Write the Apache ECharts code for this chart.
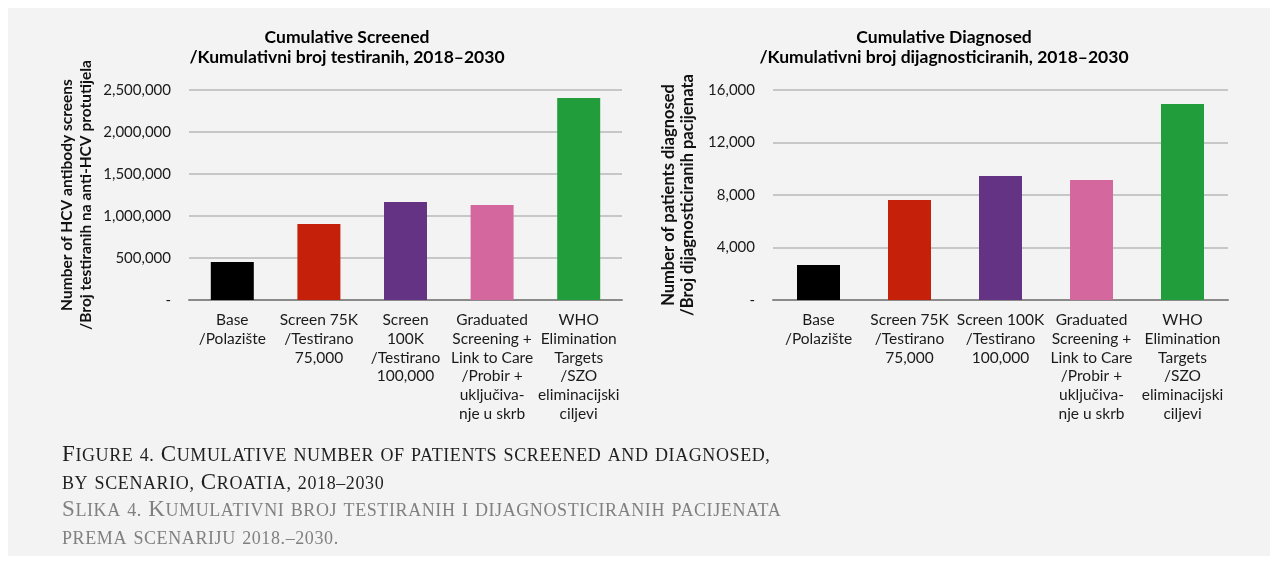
<!DOCTYPE html>
<html>
<head>
<meta charset="utf-8">
<script src="https://cdn.jsdelivr.net/npm/echarts@6/dist/echarts.min.js"></script>
<style>
  html, body { margin: 0; padding: 0; background: #fff; }
  .wrap { position: relative; width: 1275px; height: 561px; }
  .panel { position: absolute; left: 8px; top: 8px; width: 1262px; height: 548px; background: #f2f3f2; }
  #chart { position: absolute; left: 0; top: 0; width: 1275px; height: 561px; }
  .caption { position: absolute; left: 62px; top: 440px; font-family: "Liberation Serif", serif; font-size: 23px; line-height: 27.7px; letter-spacing: 0.6px; white-space: nowrap; }
  .caption .sc { font-size: 18px; line-height: 1; }
  .caption .en { color: #1f1f1f; }
  .caption .hr { color: #808080; }
</style>
</head>
<body>
<div class="wrap">
  <div class="panel"></div>
  <div id="chart"></div>
  <div class="caption">
    <div class="en" data-sc="Figure 4. Cumulative number of patients screened and diagnosed,|by scenario, Croatia, 2018–2030">Figure 4. Cumulative number of patients screened and diagnosed, by scenario, Croatia, 2018–2030</div>
    <div class="hr" data-sc="Slika 4. Kumulativni broj testiranih i dijagnosticiranih pacijenata|prema scenariju 2018.–2030.">Slika 4. Kumulativni broj testiranih i dijagnosticiranih pacijenata prema scenariju 2018.–2030.</div>
  </div>
</div>
<script>
// scenario labels (line breaks as in the figure)
const screenedLabels = [
  'Base\n/Polazište',
  'Screen 75K\n/Testirano\n75,000',
  'Screen\n100K\n/Testirano\n100,000',
  'Graduated\nScreening +\nLink to Care\n/Probir +\nuključiva-\nnje u skrb',
  'WHO\nElimination\nTargets\n/SZO\neliminacijski\nciljevi'
];
const diagnosedLabels = [
  'Base\n/Polazište',
  'Screen 75K\n/Testirano\n75,000',
  'Screen 100K\n/Testirano\n100,000',
  'Graduated\nScreening +\nLink to Care\n/Probir +\nuključiva-\nnje u skrb',
  'WHO\nElimination\nTargets\n/SZO\neliminacijski\nciljevi'
];
const barColors = ['#000000', '#c4200a', '#643383', '#d4679e', '#219e3b'];

// cumulative screened, 2018-2030
const screenedValues = [452000, 905000, 1167000, 1131000, 2405000];
// cumulative diagnosed, 2018-2030
const diagnosedValues = [2670, 7620, 9450, 9140, 14930];

const font = 'Lato, "Open Sans", sans-serif';

// small caps caption: capitals stay big, everything else goes small upper case
document.querySelectorAll('.caption [data-sc]').forEach(el => {
  const lines = el.dataset.sc.split('|');
  el.innerHTML = lines.map(line =>
    line.replace(/[^A-ZČĆŠŽĐ ]+/g, m => '<span class="sc">' + m.toUpperCase() + '</span>')
  ).join('<br>');
});

function fmt(v) {
  if (v === 0) return '-';
  return v.toLocaleString('en-US');
}

function coloured(values) {
  return values.map((v, i) => ({ value: v, itemStyle: { color: barColors[i] } }));
}

function xAxis(gridIndex, labels) {
  return {
    type: 'category',
    gridIndex: gridIndex,
    data: labels,
    axisTick: { show: false },
    axisLine: { lineStyle: { color: '#8a8a8a', width: 2 } },
    axisLabel: {
      interval: 0,
      margin: 11,
      color: '#1a1a1a',
      fontFamily: font,
      fontSize: 15.5,
      lineHeight: 18.7
    }
  };
}

function yAxis(gridIndex, max, interval, name, gap, nameSize) {
  return {
    type: 'value',
    gridIndex: gridIndex,
    min: 0,
    max: max,
    interval: interval,
    name: name,
    nameLocation: 'middle',
    nameGap: gap,
    nameTextStyle: {
      fontFamily: font,
      fontSize: nameSize,
      fontWeight: 'bold',
      color: '#111',
      lineHeight: 19
    },
    axisLine: { show: false },
    axisTick: { show: false },
    axisLabel: {
      margin: 18,
      color: '#1a1a1a',
      fontFamily: font,
      fontSize: 15,
      formatter: fmt
    },
    splitLine: { lineStyle: { color: '#b9b9b9', width: 1.5 } }
  };
}

const chart = echarts.init(document.getElementById('chart'));
chart.setOption({
  backgroundColor: 'transparent',
  animation: false,
  title: [
    {
      text: 'Cumulative Screened\n/Kumulativni broj testiranih, 2018–2030',
      left: 347, top: 28, padding: 0, textAlign: 'center',
      textStyle: { fontFamily: font, fontSize: 17.5, fontWeight: 'bold', color: '#000', lineHeight: 19.5 }
    },
    {
      text: 'Cumulative Diagnosed\n/Kumulativni broj dijagnosticiranih, 2018–2030',
      left: 944, top: 28, padding: 0, textAlign: 'center',
      textStyle: { fontFamily: font, fontSize: 17.5, fontWeight: 'bold', color: '#000', lineHeight: 19.5 }
    }
  ],
  grid: [
    { left: 189, right: 653, top: 90, bottom: 261 },
    { left: 773, right: 47, top: 90, bottom: 261 }
  ],
  xAxis: [xAxis(0, screenedLabels), xAxis(1, diagnosedLabels)],
  yAxis: [
    yAxis(0, 2500000, 500000, 'Number of HCV antibody screens\n/Broj testiranih na anti-HCV protutijela', 94, 15.5),
    yAxis(1, 16000, 4000, 'Number of patients diagnosed\n/Broj dijagnosticiranih pacijenata', 76, 16.5)
  ],
  series: [
    { type: 'bar', xAxisIndex: 0, yAxisIndex: 0, barWidth: 43, data: coloured(screenedValues) },
    { type: 'bar', xAxisIndex: 1, yAxisIndex: 1, barWidth: 43, data: coloured(diagnosedValues) }
  ]
});
</script>
</body>
</html>
